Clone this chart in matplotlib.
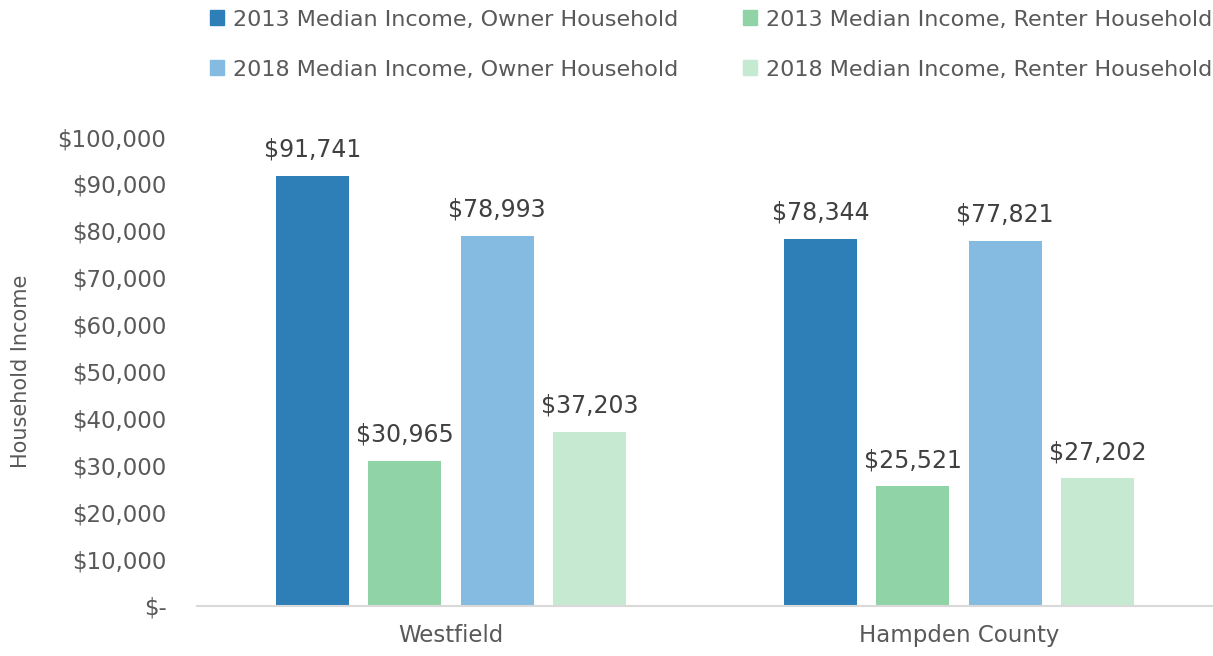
import matplotlib
matplotlib.use("Agg")
import matplotlib.pyplot as plt
import numpy as np
from matplotlib.patches import Patch

categories = ["Westfield", "Hampden County"]
series_names = [
    "2013 Median Income, Owner Household",
    "2013 Median Income, Renter Household",
    "2018 Median Income, Owner Household",
    "2018 Median Income, Renter Household",
]
own_2013 = [91741, 78344]
rent_2013 = [30965, 25521]
own_2018 = [78993, 77821]
rent_2018 = [37203, 27202]
colors = ["#2E7EB8", "#8FD3A6", "#85BBE0", "#C6E9D2"]
yticks = [0, 10000, 20000, 30000, 40000, 50000, 60000, 70000, 80000, 90000, 100000]

plt.rcParams["font.family"] = ["DejaVu Sans"]
txt = "#595959"

fig = plt.figure(figsize=(12.13, 6.56), dpi=100)
ax = fig.add_axes([197/1213, 1-606/656, (1213-197)/1213, (606-137)/656])

series = [own_2013, rent_2013, own_2018, rent_2018]
x = np.arange(len(categories))
w = 0.1437
step = 0.1817
for i, (vals, c) in enumerate(zip(series, colors)):
    pos = x + (i - 1.5) * step
    bars = ax.bar(pos, vals, width=w, color=c, zorder=2)
    for b, v in zip(bars, vals):
        ax.text(b.get_x() + b.get_width()/2, v + 3000, f"${v:,}", ha="center", va="bottom",
                fontsize=17, color="#404040")

ax.set_xlim(-0.5, 1.5)
ax.set_ylim(0, 100000)
ax.set_yticks(yticks)
ax.set_yticklabels(["$-" if t == 0 else f"${t:,}" for t in yticks])
ax.set_xticks(x)
ax.set_xticklabels(categories)
ax.tick_params(axis="both", length=0, labelsize=16.5, colors=txt)
ax.tick_params(axis="x", pad=13)
ax.tick_params(axis="y", pad=22)
for lab in ax.get_yticklabels():
    lab.set_horizontalalignment("right")
for s in ["top", "right", "left"]:
    ax.spines[s].set_visible(False)
ax.spines["bottom"].set_color("#D9D9D9")
ax.spines["bottom"].set_linewidth(1.5)
ax.set_ylabel("Household Income", fontsize=15, color=txt)
ax.yaxis.set_label_coords(-0.163, 0.5)

handles = [Patch(color=c) for c in colors]
order = [0, 2, 1, 3]
fig.legend([handles[i] for i in order], [series_names[i] for i in order], ncol=2,
           loc="upper left", bbox_to_anchor=(190/1213, 1.016), frameon=False,
           fontsize=16, labelcolor=txt, handlelength=0.65, handleheight=0.65,
           handletextpad=0.4, columnspacing=2.9, labelspacing=1.35)

fig.savefig("out.png", dpi=100)
